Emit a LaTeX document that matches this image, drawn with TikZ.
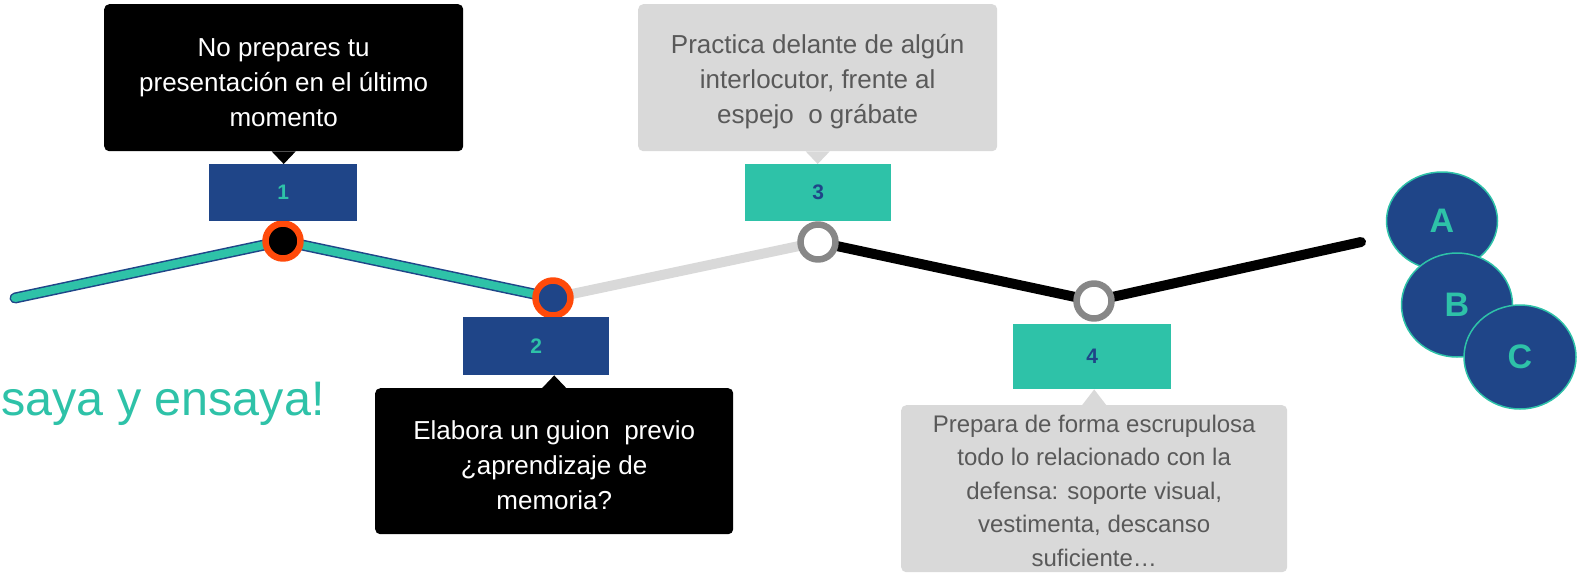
\documentclass[tikz,border=0pt]{standalone}
\usepackage{fontspec}
\setmainfont{Liberation Sans}
\usetikzlibrary{shapes.geometric, backgrounds}

\definecolor{tealgreen}{HTML}{2EC2A8}
\definecolor{darkblue}{HTML}{1F4588}
\definecolor{hotorange}{HTML}{FF4A0A}
\definecolor{ringgray}{HTML}{878787}
\definecolor{palegray}{HTML}{D9D9D9}
\definecolor{textgray}{HTML}{595959}

% strut that lowers the callout text a little
\newcommand{\liftgap}{\rule{0pt}{27pt}}

\tikzset{
	bubble/.style={rounded corners=5pt, inner sep=0pt, align=center, anchor=north west,
		font=\fontsize{26}{35}\selectfont},
	darkbubble/.style={bubble, fill=black, text=white},
	lightbubble/.style={bubble, fill=palegray, text=textgray},
	numbox/.style={inner sep=0pt, anchor=north west, font=\fontsize{21}{22}\selectfont\bfseries},
	bluebox/.style={numbox, fill=darkblue, text=tealgreen},
	tealbox/.style={numbox, fill=tealgreen, text=darkblue},
	stop/.style={circle, minimum size=35pt, inner sep=0pt, line width=6.5pt},
	track/.style={line cap=round, line join=round},
	letter/.style={ellipse, fill=darkblue, draw=tealgreen, line width=1.5pt, text=tealgreen, font=\fontsize{34}{34}\selectfont\bfseries}
}

\begin{document}
\begin{tikzpicture}[x=1pt, y=-1pt, line cap=round, line join=round]
	
	% Define bounding box
	\useasboundingbox (0,0) rectangle (1579,574);
	
	% Ends of the path
	\coordinate (p0) at (15,298);
	\coordinate (p5) at (1361,242);
	
	% Stops on the path
	\node[stop, draw=hotorange, fill=black] (s1) at (283,241) {};
	\node[stop, draw=hotorange, fill=darkblue] (s2) at (553,298) {};
	\node[stop, draw=ringgray, fill=white] (s3) at (818,242) {};
	\node[stop, draw=ringgray, fill=white] (s4) at (1094,301) {};
	
	% Path segments, behind the stops
	\begin{pgfonlayer}{background}
		\draw[track, darkblue, line width=11pt] (p0) -- (s1.center) -- (s2.center);
		\draw[track, tealgreen, line width=8pt] (p0) -- (s1.center) -- (s2.center);
		\draw[track, palegray, line width=10pt] (s2.center) -- (s3.center);
		\draw[track, black, line width=10pt] (s3.center) -- (s4.center) -- (p5);
	\end{pgfonlayer}
	
	% Number boxes
	\node[bluebox, minimum width=148pt, minimum height=57pt] (b1) at (209,164) {1};
	\node[bluebox, minimum width=146pt, minimum height=58pt] (b2) at (463,317) {2};
	\node[tealbox, minimum width=146pt, minimum height=57pt] (b3) at (745,164) {3};
	\node[tealbox, minimum width=158pt, minimum height=65pt] (b4) at (1013,324) {4};
	
	% Callouts
	\node[darkbubble, minimum width=359pt, minimum height=147pt] (c1) at (104,4)
	{\liftgap No prepares tu\\presentación en el último\\momento};
	\node[darkbubble, minimum width=358pt, minimum height=146pt] (c2) at (375,388)
	{\liftgap Elabora un guion\ \ previo\\¿aprendizaje de\\memoria?};
	\node[lightbubble, minimum width=359pt, minimum height=147pt] (c3) at (638,4)
	{\liftgap Practica delante de algún\\interlocutor, frente al\\espejo\ \ o grábate};
	\node[lightbubble, minimum width=386pt, minimum height=167pt, font=\fontsize{24}{33.5}\selectfont] (c4) at (901,405)
	{\rule{0pt}{21pt}Prepara de forma escrupulosa\\todo lo relacionado con la\\defensa: soporte visual,\\vestimenta, descanso\\suficiente…};
	
	% Callout pointers
	\fill[black] ([xshift=-12pt]c1.south) -- ([xshift=12pt]c1.south) -- (c1.south |- b1.north) -- cycle;
	\fill[black] ([xshift=-12pt]c2.north) -- ([xshift=12pt]c2.north) -- (c2.north |- b2.south) -- cycle;
	\fill[palegray] ([xshift=-12pt]c3.south) -- ([xshift=12pt]c3.south) -- (c3.south |- b3.north) -- cycle;
	\fill[palegray] ([xshift=-12pt]c4.north) -- ([xshift=12pt]c4.north) -- (c4.north |- b4.south) -- cycle;
	
	% Motto
	\node[anchor=base west, inner sep=0pt, text=tealgreen, font=\fontsize{48.5}{48}\selectfont] (motto) at (1,415) {saya y ensaya!};
	
	% Letter circles
	\node[letter, minimum width=111pt, minimum height=98pt] (A) at (1442,221) {A};
	\node[letter, minimum width=111pt, minimum height=104pt] (B) at (1457,305) {B};
	\node[letter, minimum width=112pt, minimum height=104pt] (C) at (1520,357) {C};
	
\end{tikzpicture}
\end{document}
